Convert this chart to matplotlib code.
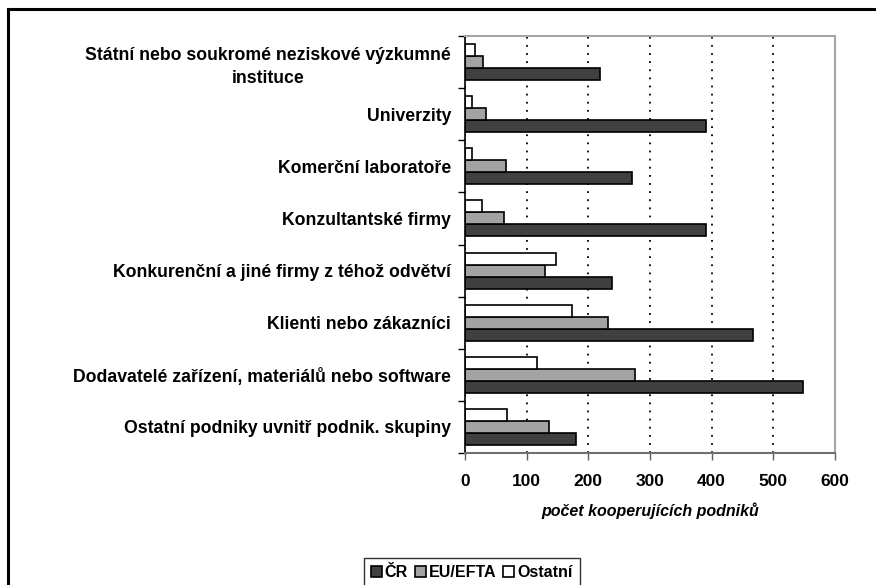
import matplotlib
matplotlib.use("Agg")
import matplotlib.pyplot as plt
import numpy as np
from matplotlib.lines import Line2D

plt.rcParams["font.family"] = ["Liberation Sans", "DejaVu Sans"]
plt.rcParams["font.weight"] = "bold"

categories = [
    "Státní nebo soukromé neziskové výzkumné\ninstituce",
    "Univerzity",
    "Komerční laboratoře",
    "Konzultantské firmy",
    "Konkurenční a jiné firmy z téhož odvětví",
    "Klienti nebo zákazníci",
    "Dodavatelé zařízení, materiálů nebo software",
    "Ostatní podniky uvnitř podnik. skupiny",
]
cr = [219, 390, 270, 390, 239, 467, 548, 180]
eu_efta = [29, 34, 66, 64, 129, 232, 275, 136]
ostatni = [17, 12, 12, 27, 148, 173, 117, 68]
series_names = ["ČR", "EU/EFTA", "Ostatní"]

W, H = 876, 585
fig = plt.figure(figsize=(W / 100, H / 100), dpi=100)
ax = fig.add_axes([465 / W, 1 - 453 / H, 370 / W, 417 / H])

y = np.arange(len(categories))
h = 0.23
kw = dict(height=h, edgecolor="black", linewidth=1.2)
b1 = ax.barh(y + h, cr, color="#404040", label=series_names[0], **kw)
b2 = ax.barh(y, eu_efta, color="#a3a3a3", label=series_names[1], **kw)
b3 = ax.barh(y - h, ostatni, color="white", label=series_names[2], **kw)

ax.set_xlim(0, 600)
ax.set_ylim(len(categories) - 0.5, -0.5)
ax.set_xticks(np.arange(0, 601, 100))
ax.set_yticks(np.arange(-0.5, len(categories), 1.0))
ax.set_yticklabels([])
ax.set_yticks(y, minor=True)
ax.set_yticklabels(categories, minor=True)
for t in ax.get_yticklabels(minor=True):
    t.set_multialignment("center")
    t.set_linespacing(1.45)
ax.tick_params(axis="y", which="minor", length=0, pad=10, labelsize=12.7)
ax.tick_params(axis="y", which="major", length=5, width=1, direction="out")
ax.tick_params(axis="x", length=5, width=1, color="#606060", pad=10, labelsize=12.5)

ax.grid(axis="x", color="black", linestyle=(0, (1, 3.5)), linewidth=1.3)
ax.set_axisbelow(True)
for s in ["top", "right"]:
    ax.spines[s].set_color("#a6a6a6")
    ax.spines[s].set_linewidth(1.5)
ax.spines["bottom"].set_color("#707070")
ax.spines["bottom"].set_linewidth(1.5)
ax.spines["left"].set_color("black")
ax.spines["left"].set_linewidth(1.2)

ax.set_xlabel("počet kooperujících podniků", fontsize=11.5, style="italic",
              fontweight="bold", labelpad=10)

fig.legend(handles=[b1, b2, b3], loc="upper left", bbox_to_anchor=(364 / W, 1 - 558 / H),
           ncol=3, frameon=True, fancybox=False, edgecolor="black", fontsize=11.5,
           handlelength=0.65, handleheight=0.65, handletextpad=0.2, columnspacing=0.45,
           borderpad=0.45, borderaxespad=0)

# rámeček obrázku (horní a levá hrana)
fig.add_artist(Line2D([8 / W, 1], [1 - 9 / H, 1 - 9 / H], color="black", lw=2.2,
                      transform=fig.transFigure))
fig.add_artist(Line2D([8 / W, 8 / W], [0, 1 - 9 / H], color="black", lw=2.2,
                      transform=fig.transFigure))

fig.savefig("out.png", dpi=100)
